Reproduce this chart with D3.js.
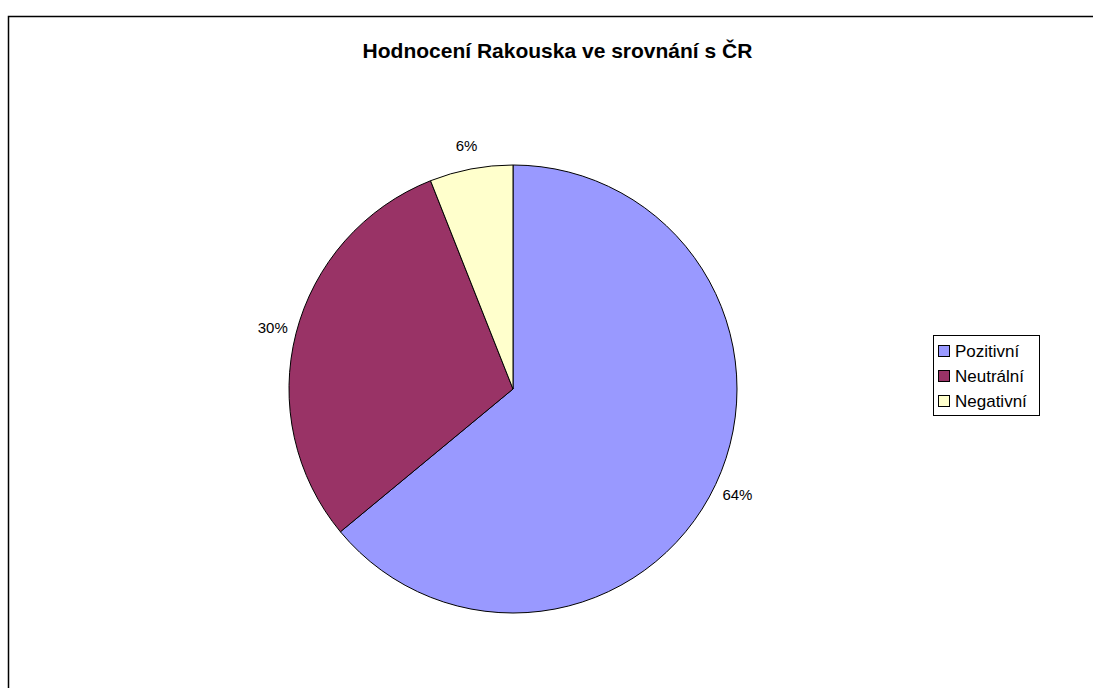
<!DOCTYPE html>
<html><head><meta charset="utf-8">
<script src="https://cdn.jsdelivr.net/npm/d3@7"></script>
<style>body{margin:0;background:#fff}svg{display:block;font-family:"Liberation Sans",Arial,sans-serif}</style>
</head><body>
<svg id="c" width="1093" height="688"></svg>
<script>
const categories = ["Pozitivní", "Neutrální", "Negativní"];
const values = [64, 30, 6];
const labels = ["64%", "30%", "6%"];
const colors = ["#9999FF", "#993366", "#FFFFCC"];
const title = "Hodnocení Rakouska ve srovnání s ČR";

const svg = d3.select("#c");
svg.append("rect").attr("x", 8.5).attr("y", 16.5).attr("width", 1200).attr("height", 800)
  .attr("fill", "#fff").attr("stroke", "#000").attr("stroke-width", 1.5);

svg.append("text").attr("x", 557.5).attr("y", 58).attr("text-anchor", "middle")
  .attr("font-size", 21).attr("font-weight", "bold").text(title);

const cx = 513, cy = 389, r = 224;
const pie = d3.pie().sort(null).value(d => d);
const arcs = pie(values);
const arc = d3.arc().innerRadius(0).outerRadius(r);
const labelArc = d3.arc().innerRadius(248).outerRadius(248);
const g = svg.append("g").attr("transform", `translate(${cx},${cy})`);
g.selectAll("path").data(arcs).enter().append("path")
  .attr("d", arc).attr("fill", (d, i) => colors[i]).attr("stroke", "#000").attr("stroke-width", 1);
g.selectAll("text").data(arcs).enter().append("text")
  .attr("transform", d => `translate(${labelArc.centroid(d)})`)
  .attr("text-anchor", "middle").attr("dominant-baseline", "central")
  .attr("font-size", 15).text((d, i) => labels[i]);

const lg = svg.append("g");
lg.append("rect").attr("x", 933.5).attr("y", 335.5).attr("width", 106).attr("height", 80)
  .attr("fill", "#fff").attr("stroke", "#000").attr("stroke-width", 1);
const ly = d3.scalePoint().domain(categories).range([351, 401]);
categories.forEach((c, i) => {
  lg.append("rect").attr("x", 938.5).attr("y", ly(c) - 5.5).attr("width", 11).attr("height", 11)
    .attr("fill", colors[i]).attr("stroke", "#000").attr("stroke-width", 1);
  lg.append("text").attr("x", 955).attr("y", ly(c)).attr("dominant-baseline", "central")
    .attr("font-size", 17).text(c);
});
</script>
</body></html>
